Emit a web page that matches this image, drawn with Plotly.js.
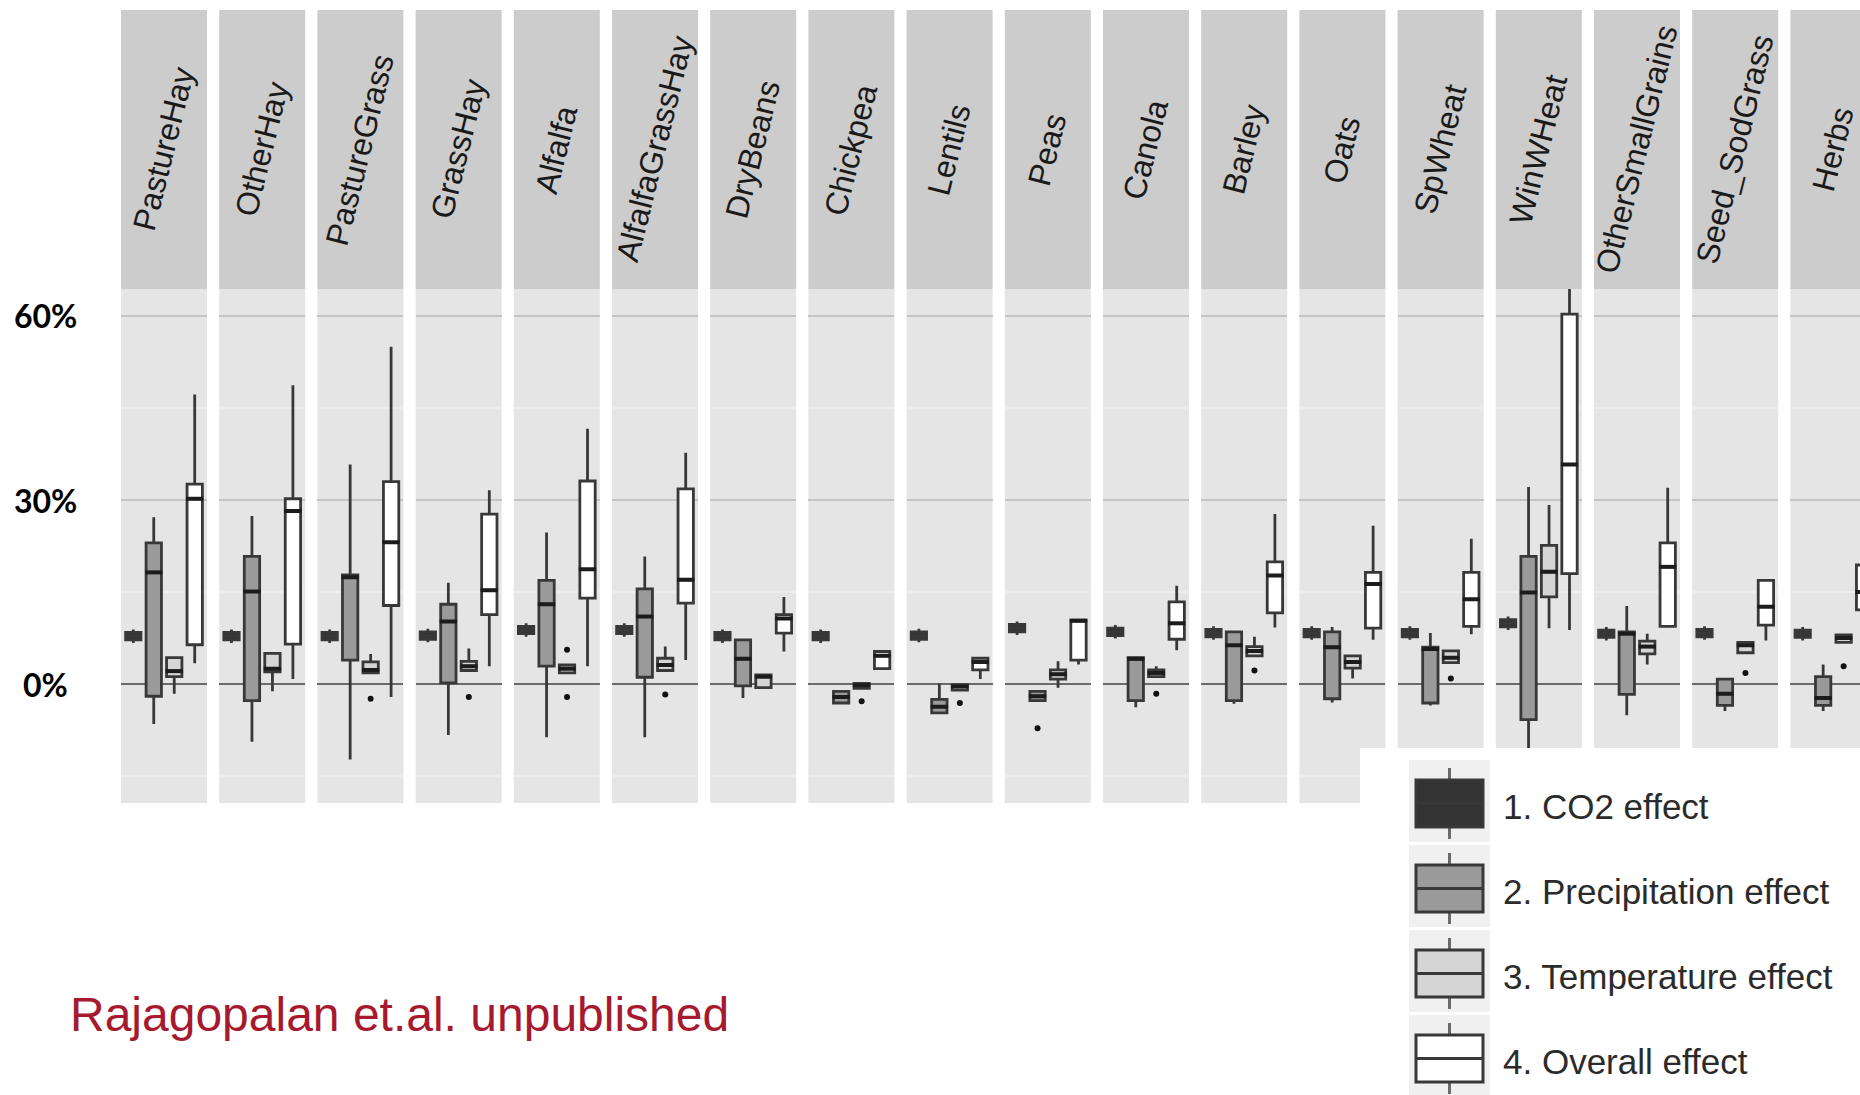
<!DOCTYPE html>
<html>
<head>
<meta charset="utf-8">
<script src="https://cdn.plot.ly/plotly-3.0.1.min.js"></script>
<style>
html,body{margin:0;padding:0;background:#fff;}
#chart{width:1860px;height:1095px;}
</style>
</head>
<body>
<div id="chart"></div>
<script>
// ---------------- DATA ----------------
const categories = ['PastureHay','OtherHay','PastureGrass','GrassHay','Alfalfa','AlfalfaGrassHay','DryBeans','Chickpea','Lentils','Peas','Canola','Barley','Oats','SpWheat','WinWHeat','OtherSmallGrains','Seed_SodGrass','Herbs'];
const seriesNames = ['1. CO2 effect','2. Precipitation effect','3. Temperature effect','4. Overall effect'];

// 1. CO2 effect (%)
const co2Lo  = [6.7,6.7,6.7,6.8,7.7,7.7,6.7,6.7,6.8,8.0,7.4,7.2,7.2,7.2,8.8,7.1,7.2,7.1];
const co2Q1  = [7.2,7.2,7.2,7.3,8.2,8.2,7.2,7.2,7.3,8.5,7.9,7.7,7.7,7.7,9.3,7.6,7.7,7.6];
const co2Med = [7.8,7.8,7.8,7.9,8.8,8.8,7.8,7.8,7.9,9.1,8.5,8.3,8.3,8.3,9.9,8.2,8.3,8.2];
const co2Q3  = [8.4,8.4,8.4,8.5,9.4,9.4,8.4,8.4,8.5,9.7,9.1,8.9,8.9,8.9,10.5,8.8,8.9,8.8];
const co2Hi  = [8.9,8.9,8.9,9.0,9.9,9.9,8.9,8.9,9.0,10.2,9.6,9.4,9.4,9.4,11.0,9.3,9.4,9.3];

// 2. Precipitation effect (%)
const preLo  = [-6.5,-9.4,-12.3,-8.3,-8.7,-8.7,-2.3,-3.1,-4.7,-2.7,-3.8,-3.2,-3.0,-3.5,-12.0,-5.1,-4.4,-4.4];
const preQ1  = [-2.0,-2.7,3.9,0.2,2.9,1.1,-0.3,-3.1,-4.7,-2.7,-2.7,-2.7,-2.4,-3.1,-5.8,-1.7,-3.5,-3.5];
const preMed = [18.2,15.1,17.4,10.2,13.0,11.0,4.1,-2.1,-3.7,-2.0,4.1,6.3,6.0,5.7,14.9,8.2,-1.6,-2.3];
const preQ3  = [23.0,20.8,17.8,13.0,16.9,15.5,7.2,-1.2,-2.5,-1.2,4.3,8.5,8.5,6.0,20.8,8.5,0.8,1.2];
const preHi  = [27.2,27.4,35.8,16.5,24.7,20.8,7.2,-1.2,0.1,-1.2,4.3,8.5,9.3,8.3,32.1,12.7,0.8,3.2];

// 3. Temperature effect (%)
const tmpLo  = [-1.6,-1.2,1.8,2.2,1.8,2.2,-0.6,-0.7,-1.0,-0.6,1.2,4.6,0.9,3.5,9.1,3.2,5.1,6.8];
const tmpQ1  = [1.2,2.0,1.8,2.2,1.8,2.2,-0.6,-0.7,-1.0,0.8,1.2,4.6,2.6,3.5,14.2,4.9,5.1,6.8];
const tmpMed = [2.1,2.5,2.3,2.9,2.5,3.1,1.2,-0.2,-0.4,1.6,1.8,5.4,3.6,4.3,18.3,6.1,6.3,7.5];
const tmpQ3  = [4.3,5.0,3.6,3.7,3.1,4.2,1.5,0.1,-0.1,2.3,2.3,6.1,4.6,5.4,22.6,7.0,6.8,8.0];
const tmpHi  = [4.3,5.0,4.9,5.8,3.1,6.1,1.5,0.1,-0.1,3.7,2.9,7.7,4.6,5.4,29.2,8.2,6.8,8.0];

// 4. Overall effect (%)
const allLo  = [3.4,0.8,-2.1,2.9,2.9,3.9,5.3,2.5,0.8,3.2,5.5,9.2,7.2,8.1,8.8,9.4,7.1,9.0];
const allQ1  = [6.4,6.5,12.8,11.3,14.0,13.2,8.3,2.5,2.3,3.9,7.3,11.6,9.1,9.4,18.0,9.4,9.6,12.1];
const allMed = [30.2,28.2,23.1,15.3,18.7,17.0,10.7,4.6,3.6,10.3,9.9,17.7,16.3,13.8,35.8,19.1,12.6,15.0];
const allQ3  = [32.6,30.2,33.0,27.7,33.1,31.8,11.3,5.3,4.2,10.4,13.4,19.9,18.2,18.2,60.3,23.0,16.9,19.4];
const allHi  = [47.2,48.7,55.0,31.6,41.6,37.7,14.2,5.3,4.2,10.4,16.0,27.7,25.8,23.7,68.0,32.0,16.9,22.0];

// Outliers: panel index, series index (1..4), value (%)
const outPanel  = [2,3,4,4,5,7,8,9,10,11,13,16,17];
const outSeries = [3,3,3,3,3,3,3,2,3,3,3,3,3];
const outValue  = [-2.4,-2.1,5.6,-2.1,-1.7,-2.8,-3.1,-7.2,-1.6,2.2,0.9,1.8,2.9];

// Y-axis tick labels
const yTickVals = [0,30,60];
const yTickText = ['0%','30%','60%'];
const yMinorVals = [-15,15,45];

const footnote = 'Rajagopalan et.al. unpublished';

// ---------------- STYLE / LAYOUT ----------------
const W = 1860, H = 1095;
const panelLeft0 = 121, panelPitch = 98.2, panelWidth = 86;
const stripTopPx = 10, panelTopPx = 289, panelBottomPx = 803;
const yRange = [-19.4, 64.4];
const xRange = [0.4, 4.6];
const boxWidth = 0.75;
const boxFills = ['#333333','#9a9a9a','#d5d5d5','#ffffff'];
const boxLine = '#383838';

const seriesStats = [
  [co2Lo, co2Q1, co2Med, co2Q3, co2Hi],
  [preLo, preQ1, preMed, preQ3, preHi],
  [tmpLo, tmpQ1, tmpMed, tmpQ3, tmpHi],
  [allLo, allQ1, allMed, allQ3, allHi]
];

const px2fx = p => p / W;
const px2fy = p => 1 - p / H;
const axId = i => (i === 0 ? '' : String(i + 1));
const boxPx = boxWidth / (xRange[1] - xRange[0]) * panelWidth;

const traces = [];
const layout = {
  width: W, height: H,
  margin: {l: 0, r: 0, t: 0, b: 0, pad: 0},
  paper_bgcolor: '#ffffff',
  plot_bgcolor: '#e5e5e5',
  showlegend: false,
  boxmode: 'overlay',
  font: {family: 'Liberation Sans, Arial, sans-serif', color: '#1a1a1a'},
  yaxis: {
    domain: [px2fy(panelBottomPx), px2fy(panelTopPx)],
    range: yRange,
    tickvals: yTickVals,
    showticklabels: false,
    ticks: '',
    showgrid: true, gridcolor: '#c4c4c4', gridwidth: 2.5,
    zeroline: true, zerolinecolor: '#6a6a6a', zerolinewidth: 2.5,
    showline: false, fixedrange: true,
    minor: {tickvals: yMinorVals, showgrid: true, gridcolor: '#ececec', gridwidth: 1.5, ticks: ''}
  },
  shapes: [],
  annotations: []
};

categories.forEach((cat, i) => {
  const L = panelLeft0 + i * panelPitch;
  const Rfull = L + panelWidth;
  const R = Math.min(Rfull, W);
  const xmax = xRange[0] + (xRange[1] - xRange[0]) * (R - L) / panelWidth;
  const id = axId(i);
  layout['xaxis' + id] = {
    domain: [px2fx(L), px2fx(R)],
    range: [xRange[0], xmax],
    anchor: 'y',
    showticklabels: false, ticks: '', showgrid: false, zeroline: false, showline: false,
    fixedrange: true
  };
  // strip background
  layout.shapes.push({
    type: 'rect', xref: 'paper', yref: 'paper',
    x0: px2fx(L), x1: px2fx(R), y0: px2fy(panelTopPx), y1: px2fy(stripTopPx),
    fillcolor: '#cccccc', line: {width: 0}, layer: 'below'
  });
  // strip label
  layout.annotations.push({
    xref: 'paper', yref: 'paper',
    x: px2fx(L + panelWidth / 2), y: px2fy((stripTopPx + panelTopPx) / 2),
    xanchor: 'center', yanchor: 'middle',
    text: cat, textangle: -76, showarrow: false,
    font: {family: 'Liberation Sans, Arial, sans-serif', size: 32, color: '#1a1a1a'}
  });
  // boxes
  seriesStats.forEach((st, s) => {
    traces.push({
      type: 'box', orientation: 'v',
      xaxis: 'x' + id, yaxis: 'y',
      x: [s + 1],
      lowerfence: [st[0][i]], q1: [st[1][i]], median: [st[2][i]], q3: [st[3][i]], upperfence: [st[4][i]],
      width: boxWidth, whiskerwidth: 0,
      fillcolor: boxFills[s],
      line: {color: boxLine, width: 2.8},
      boxpoints: false, hoverinfo: 'skip', name: seriesNames[s]
    });
  });
  // thicker median bars (ggplot style), drawn through the axes
  traces.push({
    type: 'scatter', mode: 'markers', xaxis: 'x' + id, yaxis: 'y',
    x: [2, 3, 4], y: [preMed[i], tmpMed[i], allMed[i]],
    marker: {symbol: 'line-ew', size: boxPx - 3, line: {color: '#1c1c1c', width: 4}},
    hoverinfo: 'skip'
  });
  // outliers
  const ox = [], oy = [];
  outPanel.forEach((p, k) => { if (p === i) { ox.push(outSeries[k]); oy.push(outValue[k]); } });
  if (ox.length) {
    traces.push({
      type: 'scatter', mode: 'markers', xaxis: 'x' + id, yaxis: 'y',
      x: ox, y: oy, marker: {color: '#111111', size: 6}, hoverinfo: 'skip'
    });
  }
});

// y tick labels (through the y axis)
yTickVals.forEach((v, k) => {
  layout.annotations.push({
    xref: 'paper', yref: 'y', x: px2fx(45), y: v,
    xanchor: 'center', yanchor: 'middle', showarrow: false,
    text: yTickText[k],
    font: {family: 'Lato, Open Sans, sans-serif', size: 32, color: '#000000', weight: 700}
  });
});

// footnote
layout.annotations.push({
  xref: 'paper', yref: 'paper', x: px2fx(68), y: px2fy(1014),
  xanchor: 'left', yanchor: 'middle', showarrow: false,
  text: footnote,
  font: {family: 'Liberation Sans, Arial, sans-serif', size: 48, color: '#a6192e'}
});

// legend (custom, drawn above panels)
const legLeft = 1360, legTop = 748;
const keyBgX = [1409, 1490], keyBoxX = [1416, 1483];
const rowPitch = 85, firstKeyBgTop = 760, keyBgH = 82, boxTopOff = 20, boxH = 47, whiskerExt = 12;
const textX = 1501;
layout.shapes.push({
  type: 'rect', xref: 'paper', yref: 'paper',
  x0: px2fx(legLeft), x1: 1, y0: 0, y1: px2fy(legTop),
  fillcolor: '#ffffff', line: {width: 0}, layer: 'above'
});
seriesNames.forEach((nm, s) => {
  const bgTop = firstKeyBgTop + s * rowPitch;
  const bTop = bgTop + boxTopOff, bBot = bTop + boxH;
  const cx = (keyBoxX[0] + keyBoxX[1]) / 2;
  layout.shapes.push({
    type: 'rect', xref: 'paper', yref: 'paper',
    x0: px2fx(keyBgX[0]), x1: px2fx(keyBgX[1]), y0: px2fy(Math.min(bgTop + keyBgH, H)), y1: px2fy(bgTop),
    fillcolor: '#f0f0f0', line: {width: 0}, layer: 'above'
  });
  layout.shapes.push({
    type: 'line', xref: 'paper', yref: 'paper',
    x0: px2fx(cx), x1: px2fx(cx), y0: px2fy(bTop), y1: px2fy(bTop - whiskerExt),
    line: {color: '#6a6a6a', width: 3}, layer: 'above'
  });
  layout.shapes.push({
    type: 'line', xref: 'paper', yref: 'paper',
    x0: px2fx(cx), x1: px2fx(cx), y0: px2fy(bBot), y1: px2fy(bBot + whiskerExt),
    line: {color: '#6a6a6a', width: 3}, layer: 'above'
  });
  layout.shapes.push({
    type: 'rect', xref: 'paper', yref: 'paper',
    x0: px2fx(keyBoxX[0]), x1: px2fx(keyBoxX[1]), y0: px2fy(bBot), y1: px2fy(bTop),
    fillcolor: boxFills[s], line: {color: boxLine, width: 3}, layer: 'above'
  });
  layout.shapes.push({
    type: 'line', xref: 'paper', yref: 'paper',
    x0: px2fx(keyBoxX[0]), x1: px2fx(keyBoxX[1]), y0: px2fy((bTop + bBot) / 2), y1: px2fy((bTop + bBot) / 2),
    line: {color: boxLine, width: 3}, layer: 'above'
  });
  layout.annotations.push({
    xref: 'paper', yref: 'paper', x: px2fx(textX), y: px2fy((bTop + bBot) / 2 + 3),
    xanchor: 'left', yanchor: 'middle', showarrow: false,
    text: nm,
    font: {family: 'Liberation Sans, Arial, sans-serif', size: 35, color: '#2b2b2b'}
  });
});

Plotly.newPlot('chart', traces, layout, {displayModeBar: false, staticPlot: true});
</script>
</body>
</html>
